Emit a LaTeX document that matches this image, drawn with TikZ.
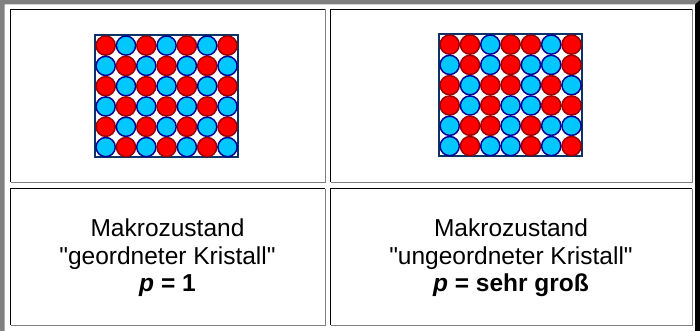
\documentclass[tikz,border=0pt]{standalone}
\usepackage{fontspec}
\setmainfont{Liberation Sans}[Ligatures=TeXOff]

\definecolor{rot}{HTML}{FF0000}
\definecolor{rotrand}{HTML}{9A0000}
\definecolor{blau}{HTML}{00C8FF}
\definecolor{blaurand}{HTML}{000099}
\definecolor{rahmenfarbe}{HTML}{0B3366}
\definecolor{grau}{HTML}{808080}

\tikzset{
  atomR/.style={fill=rot,draw=rotrand,line width=1.5pt},
  atomB/.style={fill=blau,draw=blaurand,line width=1.5pt},
  rahmen/.style={draw=rahmenfarbe,line width=1.6pt},
  beschriftung/.style={align=center,font=\fontsize{24.5}{27.5}\selectfont}
}

% Gitter aus 6 Reihen zu je 7 Atomen
\newcommand{\kristall}[3]{%
  \draw[rahmen] (#1,#2) rectangle ++(143,122);
  \foreach \reihe [count=\j from 0] in {#3} {
    \foreach \f [count=\i from 0] in \reihe {
      \draw[atom\f] (#1+10.7+20.3*\i,#2+10.6+20.3*\j) circle (9.6pt);
    }
  }
}

% Tabellenzelle mit eingesetztem Rand
\newcommand{\zelle}[4]{%
  \draw[grau,line width=1pt] (#1,#4) -- (#3,#4) -- (#3,#2);
  \draw[black,line width=1pt] (#1,#4) -- (#1,#2) -- (#3,#2);
}

\begin{document}
\begin{tikzpicture}[x=1pt,y=-1pt]
\useasboundingbox (0,0) rectangle (700,331);

% äußerer Rand
\fill[grau] (0,0) -- (700,0) -- (695,4.5) -- (4.5,4.5) -- (4.5,331) -- (0,331) -- cycle;
\fill[black] (700,0) -- (700,331) -- (695,331) -- (695,4.5) -- cycle;

\zelle{10.5}{9.5}{325}{182}
\zelle{330.5}{9.5}{692}{182}
\zelle{10.5}{188.5}{325}{325}
\zelle{330.5}{188.5}{692}{325}

\kristall{95}{35}{
  {R,B,R,B,R,B,R},
  {B,R,B,R,B,R,B},
  {R,B,R,B,R,B,R},
  {B,R,B,R,B,R,B},
  {R,B,R,B,R,B,R},
  {B,R,B,R,B,R,B}}

\kristall{439}{34}{
  {R,R,B,R,R,B,R},
  {B,R,B,R,B,B,R},
  {R,B,R,R,B,R,B},
  {R,B,R,B,B,R,R},
  {B,R,R,B,R,B,B},
  {B,R,B,B,R,B,R}}

\node[beschriftung] (geordnet) at (167.5,258)
  {Makrozustand\\"geordneter Kristall"\\\textbf{\textit{p} = 1}};
\node[beschriftung] (ungeordnet) at (511,258)
  {Makrozustand\\"ungeordneter Kristall"\\\textbf{\textit{p} = sehr groß}};
\end{tikzpicture}
\end{document}
